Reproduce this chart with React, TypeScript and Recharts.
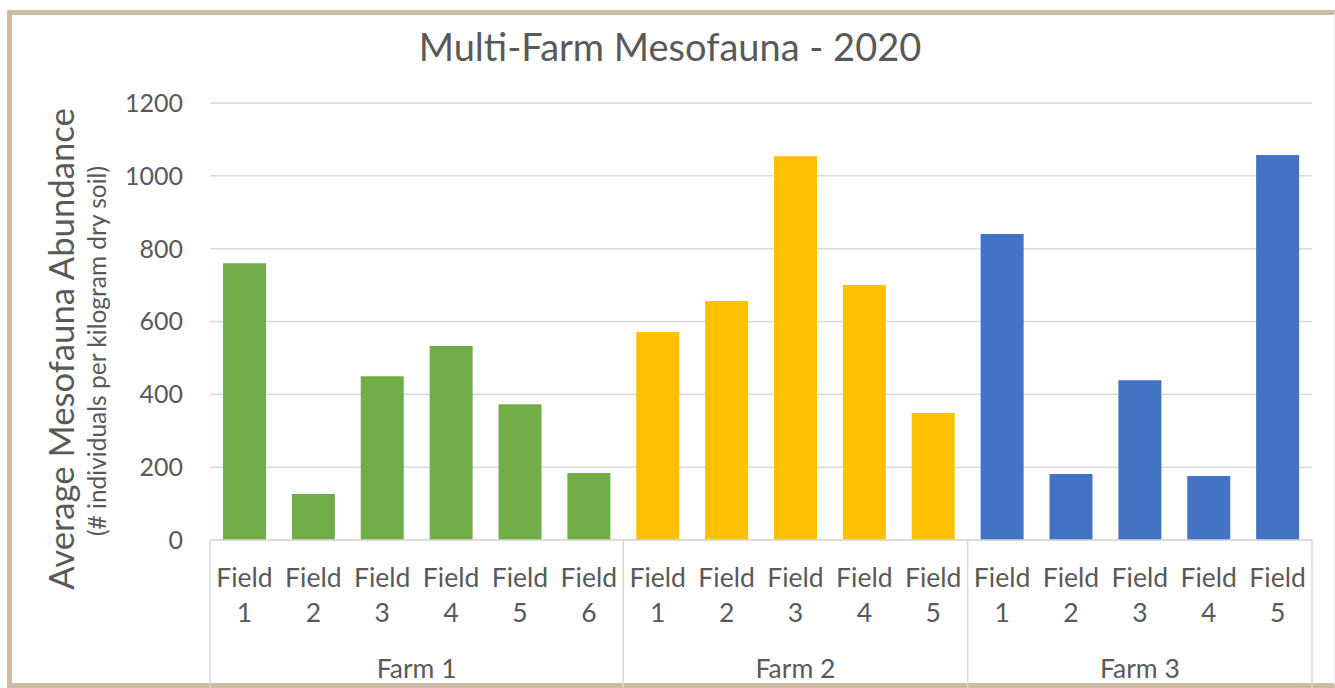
import { BarChart, Bar, XAxis, YAxis, CartesianGrid, Cell } from 'recharts';

const farms = ['Farm 1', 'Farm 2', 'Farm 3'];
const farmColors = ['#70AD47', '#FFC000', '#4472C4'];
const farm1Fields = ['1', '2', '3', '4', '5', '6'];
const farm2Fields = ['1', '2', '3', '4', '5'];
const farm3Fields = ['1', '2', '3', '4', '5'];
const farm1Values = [760, 126, 450, 533, 373, 184];
const farm2Values = [571, 656, 1054, 700, 349];
const farm3Values = [840, 181, 439, 176, 1057];
const yTicks = [0, 200, 400, 600, 800, 1000, 1200];

const fieldsByFarm = [farm1Fields, farm2Fields, farm3Fields];
const valuesByFarm = [farm1Values, farm2Values, farm3Values];

const chartData = farms.flatMap((farm, f) =>
  fieldsByFarm[f].map((field, j) => ({
    key: `${farm}-${field}`,
    farm,
    field,
    value: valuesByFarm[f][j],
    color: farmColors[f],
    first: j === 0,
    count: fieldsByFarm[f].length,
  }))
);

const W = 1335;
const H = 688;
const PLOT_LEFT = 210;
const PLOT_RIGHT = 1312;
const PLOT_TOP = 103;
const AXIS_Y = 540;
const Y_W = 60;
const PLOT_W = PLOT_RIGHT - PLOT_LEFT;
const TEXT = '#595959';
const GRID = '#d9d9d9';
const FONT = 'Lato, "Open Sans", sans-serif';

// two-line field label, plus farm group label and separators
const FieldTick = (props: any) => {
  const { x, payload } = props;
  const i = payload.index;
  const d = chartData[i];
  const bw = PLOT_W / chartData.length;
  return (
    <g fontFamily={FONT} fill={TEXT} fontSize={26.5}>
      <text x={x} y={587} textAnchor="middle">Field</text>
      <text x={x} y={622} textAnchor="middle">{d.field}</text>
      {d.first && (
        <>
          <line x1={x - bw / 2} x2={x - bw / 2} y1={AXIS_Y} y2={H} stroke={GRID} strokeWidth={1.5} />
          <text x={x - bw / 2 + (d.count * bw) / 2} y={678} textAnchor="middle">{d.farm}</text>
        </>
      )}
      {i === chartData.length - 1 && (
        <line x1={x + bw / 2} x2={x + bw / 2} y1={AXIS_Y} y2={H} stroke={GRID} strokeWidth={1.5} />
      )}
    </g>
  );
};

export default function App() {
  return (
    <div style={{ position: 'absolute', left: 0, top: 0, width: W, height: H, overflow: 'hidden', background: '#fff' }}>
      <div
        style={{
          position: 'absolute',
          left: 7,
          top: 10,
          width: W - 7,
          height: H - 10,
          boxSizing: 'border-box',
          border: '5px solid #CDBBA6',
          borderRight: '1px solid #eeeeee',
        }}
      />
      <div style={{ position: 'absolute', left: 0, top: 0 }}>
        <BarChart
          width={W}
          height={H}
          data={chartData}
          margin={{ top: PLOT_TOP, right: W - PLOT_RIGHT, bottom: 0, left: PLOT_LEFT - Y_W }}
          barSize={43}
        >
          <CartesianGrid vertical={false} stroke={GRID} strokeWidth={1.5} />
          <XAxis
            dataKey="key"
            height={H - AXIS_Y}
            interval={0}
            tickLine={false}
            axisLine={{ stroke: GRID, strokeWidth: 1.5 }}
            tick={<FieldTick />}
          />
          <YAxis
            width={Y_W}
            domain={[0, 1200]}
            ticks={yTicks}
            axisLine={false}
            tickLine={false}
            tickMargin={21}
            tick={{ fill: TEXT, fontSize: 25, fontFamily: FONT }}
          />
          <Bar dataKey="value" barSize={43} isAnimationActive={false}>
            {chartData.map((d) => (
              <Cell key={d.key} fill={d.color} />
            ))}
          </Bar>
        </BarChart>
      </div>
      <svg width={W} height={H} style={{ position: 'absolute', left: 0, top: 0, pointerEvents: 'none' }}>
        <text x={670} y={61} textAnchor="middle" fontFamily={FONT} fontSize={38} fill={TEXT}>
          Multi-Farm Mesofauna - 2020
        </text>
        <text
          transform="translate(74, 349) rotate(-90)"
          textAnchor="middle"
          fontFamily={FONT}
          fontSize={34.7}
          fill={TEXT}
        >
          Average Mesofauna Abundance
        </text>
        <text
          transform="translate(106, 351) rotate(-90)"
          textAnchor="middle"
          fontFamily={FONT}
          fontSize={24.5}
          fill={TEXT}
        >
          (# individuals per kilogram dry soil)
        </text>
      </svg>
    </div>
  );
}
